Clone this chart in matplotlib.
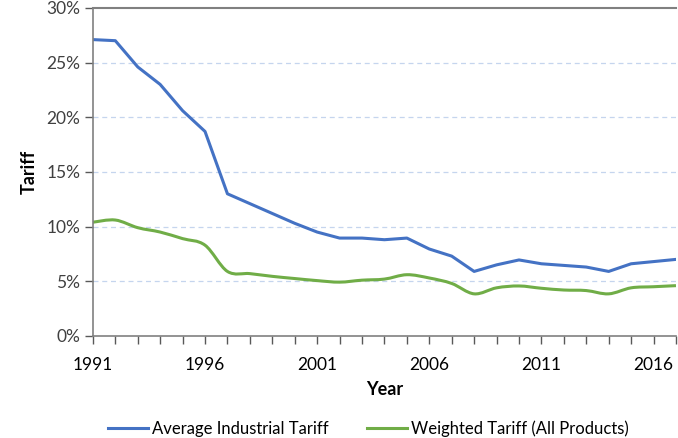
import matplotlib
matplotlib.use("Agg")
import matplotlib.pyplot as plt
from matplotlib.path import Path
from matplotlib.patches import PathPatch
from matplotlib.ticker import FuncFormatter
import numpy as np

plt.rcParams['font.family'] = ['Lato', 'DejaVu Sans']

years = list(range(1991, 2018))
avg_industrial = [27.1, 27.0, 24.6, 23.0, 20.6, 18.7, 13.0, 12.1, 11.2, 10.3,
                  9.5, 8.95, 8.95, 8.8, 8.95, 7.95, 7.3, 5.9, 6.5, 6.95,
                  6.6, 6.45, 6.3, 5.9, 6.6, 6.8, 7.0]
weighted = [10.4, 10.6, 9.9, 9.5, 8.9, 8.3, 5.9, 5.7, 5.45, 5.25,
            5.06, 4.92, 5.1, 5.2, 5.6, 5.3, 4.8, 3.85, 4.4, 4.57,
            4.36, 4.2, 4.15, 3.85, 4.4, 4.5, 4.6]
xticks = [1991, 1996, 2001, 2006, 2011, 2016]

blue = '#4472C4'
green = '#70AD47'


def smooth_path(x, y, t=1/6):
    # cubic bezier through the points, excel-like smoothing
    x = np.asarray(x, float)
    y = np.asarray(y, float)
    verts = [(x[0], y[0])]
    codes = [Path.MOVETO]
    n = len(x)
    for i in range(n - 1):
        p0 = (x[max(i - 1, 0)], y[max(i - 1, 0)])
        p1 = (x[i], y[i])
        p2 = (x[i + 1], y[i + 1])
        p3 = (x[min(i + 2, n - 1)], y[min(i + 2, n - 1)])
        c1 = (p1[0] + (p2[0] - p0[0]) * t, p1[1] + (p2[1] - p0[1]) * t)
        c2 = (p2[0] - (p3[0] - p1[0]) * t, p2[1] - (p3[1] - p1[1]) * t)
        verts += [c1, c2, p2]
        codes += [Path.CURVE4] * 3
    return Path(verts, codes)


fig = plt.figure(figsize=(6.78, 4.38), dpi=100)
ax = fig.add_axes([0.137, 0.233, 0.86, 0.749])

ax.plot(years, avg_industrial, color=blue, lw=2.2, label='Average Industrial Tariff',
        solid_joinstyle='round')
ax.add_patch(PathPatch(smooth_path(years, weighted), facecolor='none',
                       edgecolor=green, lw=2.2))
ax.plot([], [], color=green, lw=2.2, label='Weighted Tariff (All Products)')

ax.set_xlim(1991, 2017)
ax.set_ylim(0, 30)
ax.set_yticks(range(0, 31, 5))
ax.yaxis.set_major_formatter(FuncFormatter(lambda v, p: f'{int(v)}%'))
ax.set_xticks(range(1991, 2018), minor=True)
ax.set_xticks(xticks)
ax.tick_params(axis='both', which='both', direction='out', color='#595959',
               labelsize=12.5, length=6, width=1)
ax.tick_params(axis='x', labelcolor='black', pad=9)
ax.tick_params(axis='y', labelcolor='#404040', pad=3)
ax.tick_params(axis='x', which='minor', length=6)

for y in range(5, 30, 5):
    ax.axhline(y, color='#C5D5EE', lw=0.9, ls=(0, (4, 3)), zorder=0)

ax.spines['right'].set_visible(False)
ax.spines['top'].set_color('#808080')
ax.spines['top'].set_linewidth(1.5)
for s in ['left', 'bottom']:
    ax.spines[s].set_color('#808080')
    ax.spines[s].set_linewidth(1.2)

ax.set_xlabel('Year', fontsize=13, fontweight='bold', labelpad=6)
ax.set_ylabel('Tariff', fontsize=13, fontweight='bold', labelpad=6)

fig.legend(loc='center', ncol=2, frameon=False, fontsize=12,
           bbox_to_anchor=(0.543, 0.022), handlelength=2.4, columnspacing=2.3,
           handletextpad=0.25)

fig.savefig('out.png', dpi=100)
